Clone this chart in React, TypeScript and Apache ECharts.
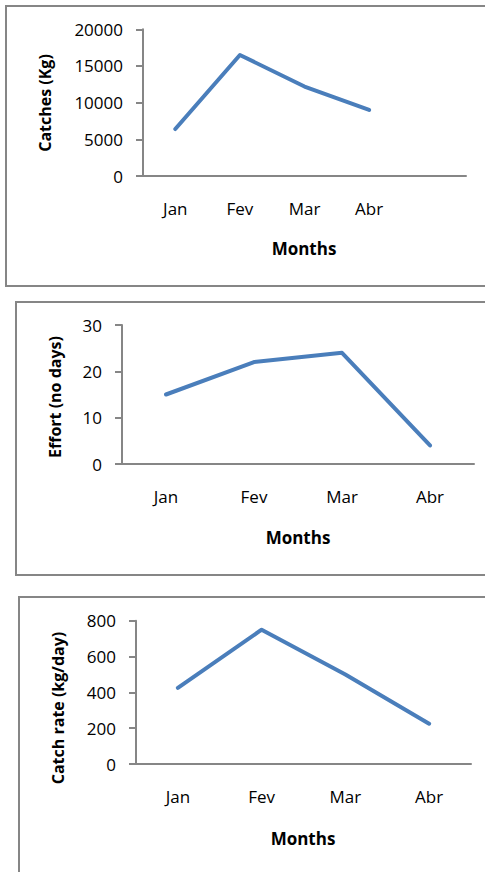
import React, { useEffect, useRef } from "react";
import * as echarts from "echarts";

const months = ["Jan", "Fev", "Mar", "Abr"];
const catches = [6400, 16500, 12200, 9000];
const effort = [15, 22, 24, 4];
const catchRate = [425, 750, 500, 225];

const FONT = "Open Sans";
const AXIS_COLOR = "#868686";
const LINE_COLOR = "#4A7EBB";

export default function App() {
  const ref = useRef<HTMLDivElement>(null);
  useEffect(() => {
    if (!ref.current) return;
    const chart = echarts.init(ref.current, undefined, { renderer: "svg" });
    const grids = [
      { left: 143, top: 29.3, width: 323, height: 146.7 },
      { left: 122, top: 325, width: 352, height: 139 },
      { left: 136, top: 620.7, width: 335, height: 143.3 },
    ];
    const yCfg = [
      { max: 20000, interval: 5000 },
      { max: 30, interval: 10 },
      { max: 800, interval: 200 },
    ];
    const cats = [[...months, ""], months, months];
    const data = [catches, effort, catchRate];
    const titles = [
      { text: "Catches (Kg)", x: 45, y: 103 },
      { text: "Effort (no days)", x: 55, y: 397 },
      { text: "Catch rate (kg/day)", x: 58, y: 708 },
    ];
    const monthsTitles = [
      { x: 304, y: 248 },
      { x: 298, y: 537 },
      { x: 303, y: 838 },
    ];
    const boxes = [
      { x: 6, y: 6, w: 500, h: 280 },
      { x: 16, y: 302, w: 500, h: 273 },
      { x: 19, y: 597, w: 500, h: 300 },
    ];
    const graphic: any[] = [];
    boxes.forEach((b) =>
      graphic.push({
        type: "rect",
        shape: { x: b.x, y: b.y, width: b.w, height: b.h },
        style: { fill: "none", stroke: AXIS_COLOR, lineWidth: 2 },
        z: 0,
      })
    );
    titles.forEach((t) =>
      graphic.push({
        type: "text",
        x: t.x,
        y: t.y,
        rotation: Math.PI / 2,
        style: {
          text: t.text,
          textAlign: "center",
          textVerticalAlign: "middle",
          font: `bold 16px '${FONT}'`,
          fill: "#000",
        },
      })
    );
    monthsTitles.forEach((t) =>
      graphic.push({
        type: "text",
        x: t.x,
        y: t.y,
        style: {
          text: "Months",
          textAlign: "center",
          textVerticalAlign: "middle",
          font: `bold 17px '${FONT}'`,
          fill: "#000",
        },
      })
    );

    chart.setOption({
      animation: false,
      grid: grids,
      graphic,
      xAxis: grids.map((_, i) => ({
        type: "category",
        gridIndex: i,
        data: cats[i],
        boundaryGap: true,
        axisLine: { lineStyle: { color: AXIS_COLOR, width: 2 } },
        axisTick: { show: false },
        axisLabel: {
          color: "#000",
          fontFamily: FONT,
          fontSize: 17,
          margin: 24,
          interval: 0,
        },
        splitLine: { show: false },
      })),
      yAxis: grids.map((_, i) => ({
        type: "value",
        gridIndex: i,
        min: 0,
        max: yCfg[i].max,
        interval: yCfg[i].interval,
        axisLine: { show: true, lineStyle: { color: AXIS_COLOR, width: 2 } },
        axisTick: {
          show: true,
          inside: false,
          length: 7,
          lineStyle: { color: AXIS_COLOR, width: 2 },
        },
        axisLabel: {
          color: "#000",
          fontFamily: FONT,
          fontSize: 17,
          margin: 20,
          formatter: (v: number) => String(v),
        },
        splitLine: { show: false },
      })),
      series: data.map((d, i) => ({
        type: "line",
        xAxisIndex: i,
        yAxisIndex: i,
        data: d,
        symbol: "none",
        lineStyle: { color: LINE_COLOR, width: 4, cap: "round", join: "round" },
      })),
    });
    return () => chart.dispose();
  }, []);
  return (
    <div
      ref={ref}
      style={{ position: "fixed", left: 0, top: 0, width: 485, height: 872, background: "#fff" }}
    />
  );
}
